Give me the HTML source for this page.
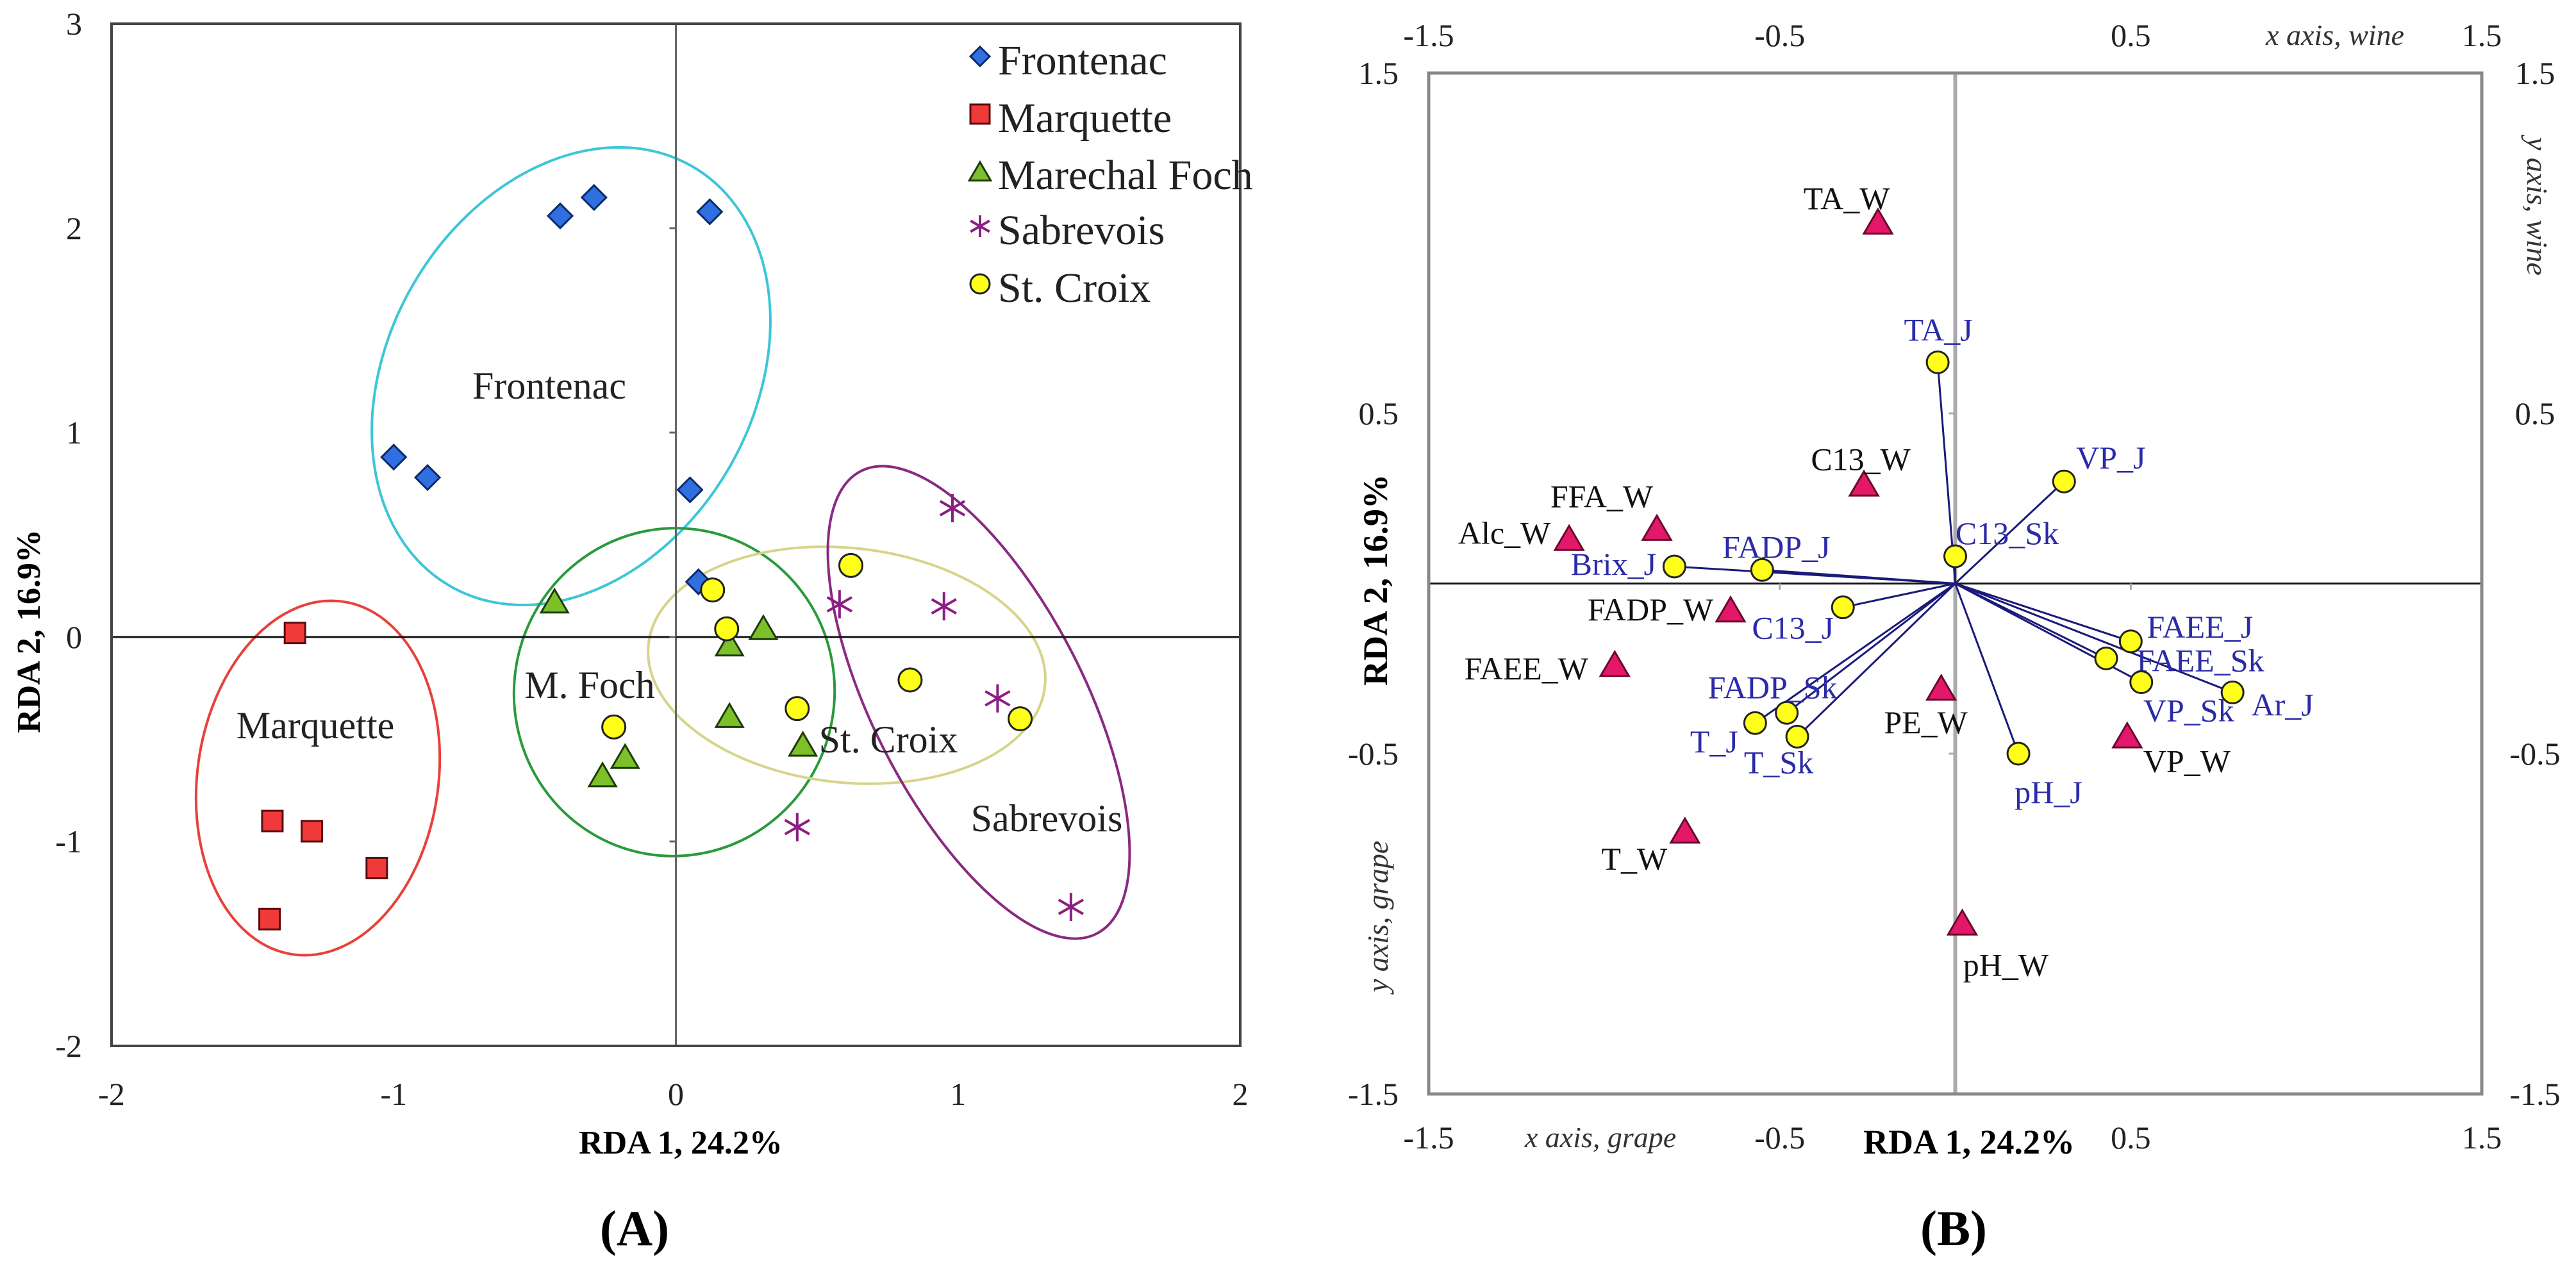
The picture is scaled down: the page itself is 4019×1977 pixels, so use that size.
<!DOCTYPE html>
<html><head><meta charset="utf-8"><style>
html,body{margin:0;padding:0;background:#fff;}
svg{display:block;font-family:"Liberation Serif",serif;}
</style></head><body>
<svg id="fig" width="4019" height="1977" viewBox="0 0 4019 1977" xmlns="http://www.w3.org/2000/svg">
<g id="panelA"></g>
<g id="panelB"></g>
</svg>
<script>
// ---------- Panel A data ----------
const frontenacX = [-0.41,-0.29,0.12,-1.00,-0.88,0.05,0.08];
const frontenacY = [2.06,2.15,2.08,0.88,0.78,0.72,0.27];
const marquetteX = [-1.35,-1.43,-1.29,-1.06,-1.44];
const marquetteY = [0.02,-0.90,-0.95,-1.13,-1.38];
const fochX = [-0.43,0.19,0.31,0.19,0.45,-0.18,-0.26];
const fochY = [0.17,-0.04,0.04,-0.39,-0.53,-0.59,-0.68];
const sabrevoisX = [0.98,0.58,0.95,1.14,0.43,1.40];
const sabrevoisY = [0.63,0.16,0.15,-0.30,-0.93,-1.32];
const croixX = [0.13,0.62,0.18,0.83,0.43,1.22,-0.22];
const croixY = [0.23,0.35,0.04,-0.21,-0.35,-0.40,-0.44];
const aXTicks = [-2,-1,0,1,2];
const aYTicks = [3,2,1,0,-1,-2];
const legendNames = ["Frontenac","Marquette","Marechal Foch","Sabrevois","St. Croix"];

// ---------- Panel B data ----------
const wineNames = ["TA_W","C13_W","FFA_W","Alc_W","FADP_W","FAEE_W","PE_W","VP_W","T_W","pH_W"];
const wineX = [-0.22,-0.26,-0.85,-1.10,-0.64,-0.97,-0.04,0.49,-0.77,0.02];
const wineY = [1.06,0.29,0.16,0.13,-0.08,-0.24,-0.31,-0.45,-0.73,-1.00];
const grapeNames = ["TA_J","VP_J","C13_Sk","Brix_J","FADP_J","C13_J","FAEE_J","FAEE_Sk","VP_Sk","Ar_J","FADP_Sk","T_J","T_Sk","pH_J"];
const grapeX = [-0.05,0.31,0.00,-0.80,-0.55,-0.32,0.50,0.43,0.53,0.79,-0.48,-0.57,-0.45,0.18];
const grapeY = [0.65,0.30,0.08,0.05,0.04,-0.07,-0.17,-0.22,-0.29,-0.32,-0.38,-0.41,-0.45,-0.50];
const bTickLabels = ["-1.5","-0.5","0.5","1.5"];
const bTickValues = [-1.5,-0.5,0.5,1.5];

const NS="http://www.w3.org/2000/svg";
function mk(tag,parent,attrs,text){const e=document.createElementNS(NS,tag);for(const k in attrs)e.setAttribute(k,attrs[k]);if(text!==undefined)e.textContent=text;parent.appendChild(e);return e;}

// ===== Panel A =====
const A=document.getElementById('panelA');
const ax=v=>174+(v+2)*(1935-174)/4;
const ay=v=>37+(3-v)*(1632-37)/5;

let e;
const ells=[
 ["frontenac-ellipse",891,587,285,378,30,"#3cc6d8"],
 ["marquette-ellipse",496,1214,188,278,8,"#e8413a"],
 ["foch-ellipse",1052,1080,250,256,10,"#2a9a3c"],
 ["st-croix-ellipse",1321,1038,311,183,6,"#d6d48a"],
 ["sabrevois-ellipse",1527,1096,165,405,-27,"#8a2a80"]];
ells.forEach(d=>{
 e=mk('ellipse',A,{cx:d[1],cy:d[2],rx:d[3],ry:d[4],transform:`rotate(${d[5]} ${d[1]} ${d[2]})`,fill:'none',stroke:d[6],'stroke-width':4});
 
 
});
e=mk('line',A,{x1:ax(0),y1:37,x2:ax(0),y2:1632,stroke:'#666','stroke-width':3});

e=mk('line',A,{x1:174,y1:ay(0),x2:1935,y2:ay(0),stroke:'#111','stroke-width':3});

aYTicks.forEach(v=>{const t=mk('line',A,{x1:ax(0),y1:ay(v),x2:ax(0)-10,y2:ay(v),stroke:'#666','stroke-width':3});
 });
e=mk('rect',A,{x:174,y:37,width:1761,height:1595,fill:'none',stroke:'#444','stroke-width':4});

aXTicks.forEach(v=>{const t=mk('text',A,{x:ax(v),y:1724,'font-size':50,'text-anchor':'middle',fill:'#222'},String(v));
 });
aYTicks.forEach(v=>{const t=mk('text',A,{x:128,y:ay(v)+17,'font-size':50,'text-anchor':'end',fill:'#222'},String(v));
 });
e=mk('text',A,{x:1062,y:1800,'font-size':52,'font-weight':'bold','text-anchor':'middle'},'RDA 1, 24.2%');

e=mk('text',A,{x:0,y:0,'font-size':52,'font-weight':'bold','text-anchor':'middle',transform:'translate(62 985) rotate(-90)'},'RDA 2, 16.9%');

e=mk('text',A,{x:990,y:1943,'font-size':78,'font-weight':'bold','text-anchor':'middle'},'(A)');

[["Frontenac",857,604],["Marquette",492,1134],["M. Foch",920,1071],["St. Croix",1386,1156],["Sabrevois",1633,1279]].forEach(d=>{
 const t=mk('text',A,{x:d[1],y:d[2]+18,'font-size':60,'text-anchor':'middle',fill:'#222'},d[0]);
 
});
function diamond(p,x,y,s){return mk('polygon',p,{points:`${x},${y-s} ${x+s},${y} ${x},${y+s} ${x-s},${y}`,fill:'#2f6fe0',stroke:'#0c2a6a','stroke-width':3});}
function square(p,x,y,s){return mk('rect',p,{x:x-s,y:y-s,width:2*s,height:2*s,fill:'#f03a3a',stroke:'#5a0c0c','stroke-width':3});}
function tri(p,x,y,s,fill,stroke){return mk('polygon',p,{points:`${x},${y-s} ${x+s*1.05},${y+s*0.8} ${x-s*1.05},${y+s*0.8}`,fill:fill,stroke:stroke,'stroke-width':3});}
function star(p,x,y,s){const g=mk('g',p,{stroke:'#8a1e82','stroke-width':4});
 mk('line',g,{x1:x,y1:y-s,x2:x,y2:y+s});mk('line',g,{x1:x-s*0.87,y1:y-s*0.5,x2:x+s*0.87,y2:y+s*0.5});mk('line',g,{x1:x-s*0.87,y1:y+s*0.5,x2:x+s*0.87,y2:y-s*0.5});return g;}
function circ(p,x,y,r){return mk('circle',p,{cx:x,cy:y,r:r,fill:'#ffff1a',stroke:'#222','stroke-width':3});}
frontenacX.forEach((v,i)=>{e=diamond(A,ax(v),ay(frontenacY[i]),19);});
marquetteX.forEach((v,i)=>{e=square(A,ax(v),ay(marquetteY[i]),16);});
fochX.forEach((v,i)=>{e=tri(A,ax(v),ay(fochY[i]),20,'#7cc02a','#1e3a0a');});
sabrevoisX.forEach((v,i)=>{e=star(A,ax(v),ay(sabrevoisY[i]),22);});
croixX.forEach((v,i)=>{e=circ(A,ax(v),ay(croixY[i]),18);});
const legY=[88,178,267,353,443];
legendNames.forEach((n,i)=>{
 const g=mk('g',A,{});
 
 const x=1529,y=legY[i];
 if(i===0)diamond(g,x,y,15);else if(i===1)square(g,x,y,15);else if(i===2)tri(g,x,y+2,16,'#7cc02a','#1e3a0a');else if(i===3)star(g,x,y,17);else circ(g,x,y,15);
 mk('text',g,{x:1557,y:y+28,'font-size':66,fill:'#222'},n);
});

// ===== Panel B =====
const B=document.getElementById('panelB');
const bx=v=>2229+(v+1.5)*(3872-2229)/3;
const by=v=>114+(1.5-v)*(1707-114)/3;
e=mk('line',B,{x1:bx(0),y1:114,x2:bx(0),y2:1707,stroke:'#aaa','stroke-width':6});

e=mk('line',B,{x1:2229,y1:by(0),x2:3872,y2:by(0),stroke:'#111','stroke-width':3});

bTickValues.forEach(v=>{
 let t=mk('line',B,{x1:bx(v),y1:by(0),x2:bx(v),y2:by(0)+10,stroke:'#aaa','stroke-width':3});
 
 t=mk('line',B,{x1:bx(0),y1:by(v),x2:bx(0)-10,y2:by(v),stroke:'#aaa','stroke-width':3});
 
});
e=mk('rect',B,{x:2229,y:114,width:1643,height:1593,fill:'none',stroke:'#888','stroke-width':5});

bTickValues.forEach((v,i)=>{
 let t=mk('text',B,{x:bx(v),y:72,'font-size':50,'text-anchor':'middle',fill:'#222'},bTickLabels[i]);
 
 t=mk('text',B,{x:bx(v),y:1792,'font-size':50,'text-anchor':'middle',fill:'#222'},bTickLabels[i]);
 
 t=mk('text',B,{x:2182,y:by(v)+17,'font-size':50,'text-anchor':'end',fill:'#222'},bTickLabels[i]);
 
 t=mk('text',B,{x:3955,y:by(v)+17,'font-size':50,'text-anchor':'middle',fill:'#222'},bTickLabels[i]);
 
});
e=mk('text',B,{x:3643,y:70,'font-size':46,'font-style':'italic','text-anchor':'middle',fill:'#333'},'x axis, wine');

e=mk('text',B,{x:2497,y:1790,'font-size':46,'font-style':'italic','text-anchor':'middle',fill:'#333'},'x axis, grape');

e=mk('text',B,{x:0,y:0,'font-size':46,'font-style':'italic','text-anchor':'middle',fill:'#333',transform:'translate(3943 322) rotate(90)'},'y axis, wine');

e=mk('text',B,{x:0,y:0,'font-size':46,'font-style':'italic','text-anchor':'middle',fill:'#333',transform:'translate(2165 1430) rotate(-90)'},'y axis, grape');

e=mk('text',B,{x:3072,y:1800,'font-size':54,'font-weight':'bold','text-anchor':'middle'},'RDA 1, 24.2%');

e=mk('text',B,{x:0,y:0,'font-size':54,'font-weight':'bold','text-anchor':'middle',transform:'translate(2164 905) rotate(-90)'},'RDA 2, 16.9%');

e=mk('text',B,{x:3048,y:1943,'font-size':78,'font-weight':'bold','text-anchor':'middle'},'(B)');

grapeX.forEach((v,i)=>{
 const l=mk('line',B,{x1:bx(0),y1:by(0),x2:bx(v),y2:by(grapeY[i]),stroke:'#1a1a7a','stroke-width':3});
 
});
const wineOff=[[-49,-38],[-5,-40],[-86,-51],[-101,-10],[-125,-2],[-138,5],[-24,52],[93,38],[-79,42],[68,64]];
const grapeOff=[[1,-51],[73,-37],[81,-36],[-95,-4],[22,-36],[-78,32],[108,-23],[147,3],[74,44],[78,19],[-22,-40],[-64,29],[-29,40],[47,60]];
wineX.forEach((v,i)=>{
 const x=bx(v),y=by(wineY[i]);
 e=tri(B,x,y,21,'#e3186a','#6a0a2a');
 
 const t=mk('text',B,{x:x+wineOff[i][0],y:y+wineOff[i][1]+17,'font-size':50,'text-anchor':'middle',fill:'#111'},wineNames[i]);
 
});
grapeX.forEach((v,i)=>{
 const x=bx(v),y=by(grapeY[i]);
 e=circ(B,x,y,17);
 
 const t=mk('text',B,{x:x+grapeOff[i][0],y:y+grapeOff[i][1]+17,'font-size':50,'text-anchor':'middle',fill:'#2b2ba8'},grapeNames[i]);
 
});
</script>
</body></html>
